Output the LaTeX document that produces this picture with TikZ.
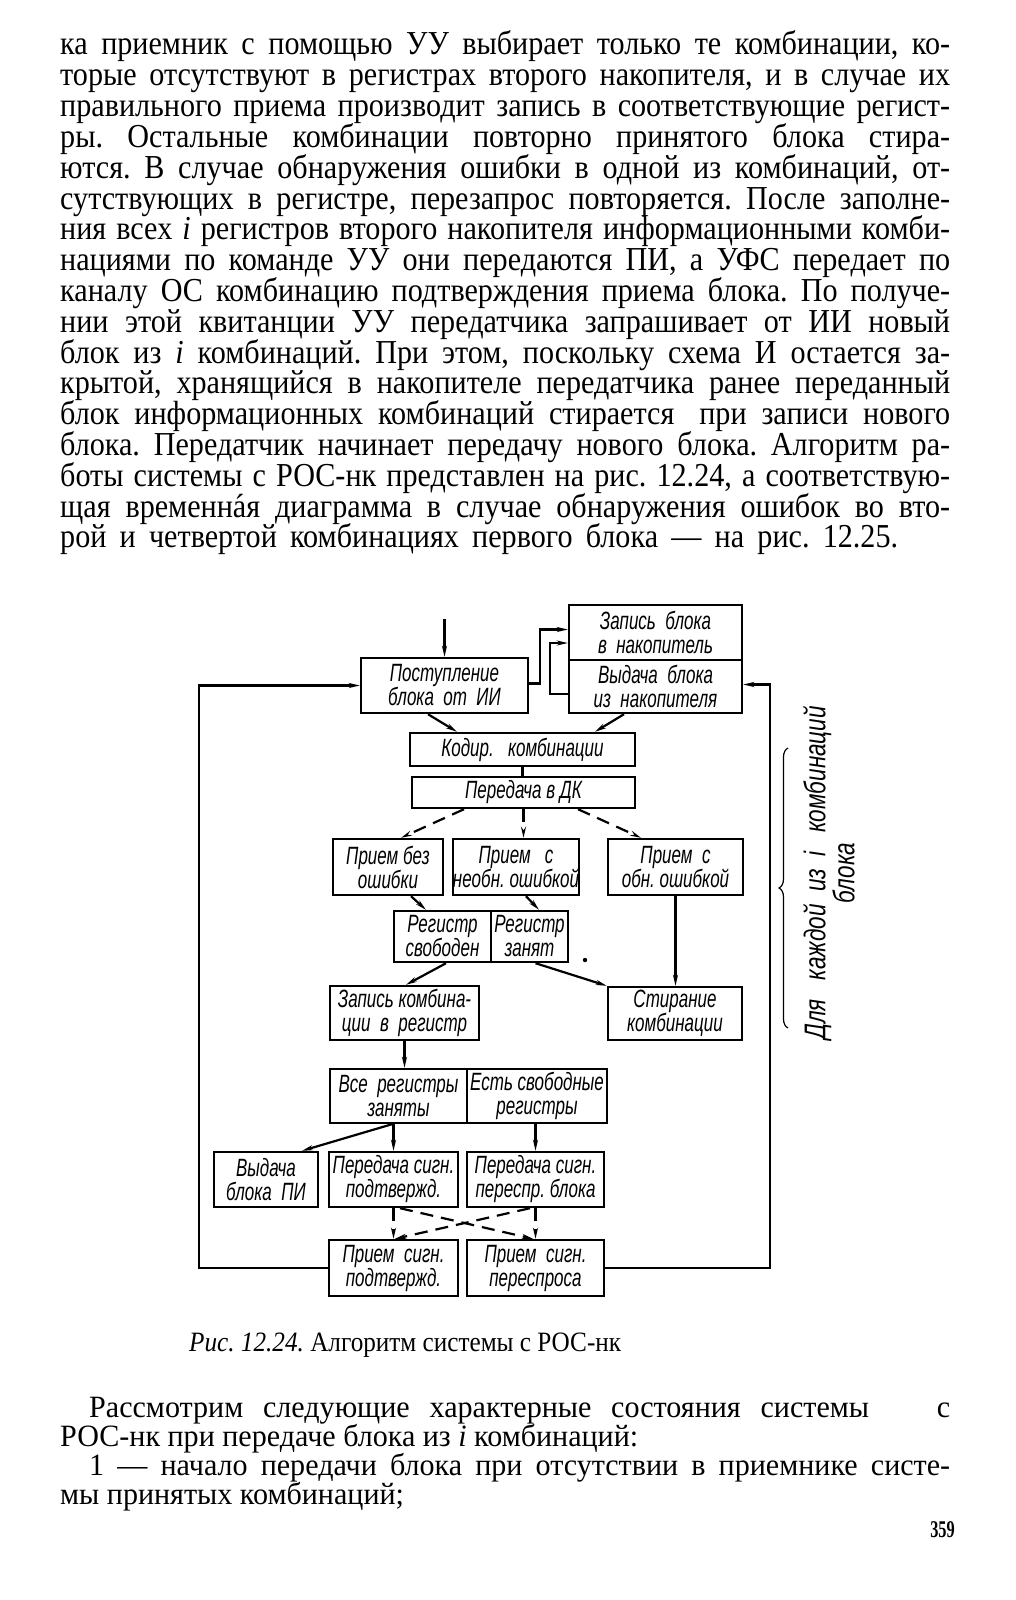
\documentclass[tikz,border=0pt]{standalone}
\usepackage{fontspec}
\setmainfont{Liberation Serif}[FakeStretch=0.9]
\newfontfamily\dfont{Liberation Sans}[FakeStretch=0.68]
\newfontfamily\bfont{Liberation Sans}[FakeStretch=0.75]
\newfontfamily\pgfont{Liberation Serif}[FakeStretch=0.68]
\usetikzlibrary{arrows.meta,decorations.pathreplacing}
\newcommand\jl[2][890pt]{\makebox[#1][s]{#2}}
\frenchspacing
\tikzset{
 blk/.style={draw, line width=2.4pt, inner sep=0pt, align=center, font=\dfont\itshape\fontsize{25}{24}\selectfont},
 arr/.style={line width=2.2pt, -{Stealth[length=11pt,width=5pt]}},
 darr/.style={arr, dash pattern=on 13pt off 8pt},
 ln/.style={line width=2.2pt},
 body/.style={anchor=base west, inner sep=0pt, font=\fontsize{33.5}{31}\selectfont},
 bodyb/.style={anchor=base west, inner sep=0pt, font=\addfontfeature{FakeStretch=0.97}\fontsize{31}{29}\selectfont},
}
\begin{document}
\begin{tikzpicture}[x=1pt,y=-1pt]
\useasboundingbox[fill=white] (0,0) rectangle (1016,1600);
% ---- top paragraph
\node[body] (L1) at (60,55.0) {\jl{ка приемник с помощью УУ выбирает только те комбинации, ко-}};
\node[body] (L2) at (60,85.8) {\jl{торые отсутствуют в регистрах второго накопителя, и в случае их}};
\node[body] (L3) at (60,116.6) {\jl{правильного приема производит запись в соответствующие регист-}};
\node[body] (L4) at (60,147.4) {\jl{ры. Остальные комбинации повторно принятого блока стира-}};
\node[body] (L5) at (60,178.2) {\jl{ются. В случае обнаружения ошибки в одной из комбинаций, от-}};
\node[body] (L6) at (60,209.0) {\jl{сутствующих в регистре, перезапрос повторяется. После заполне-}};
\node[body] (L7) at (60,239.8) {\jl{ния всех \textit{i} регистров второго накопителя информационными комби-}};
\node[body] (L8) at (60,270.6) {\jl{нациями по команде УУ они передаются ПИ, а УФС передает по}};
\node[body] (L9) at (60,301.4) {\jl{каналу ОС комбинацию подтверждения приема блока. По получе-}};
\node[body] (L10) at (60,332.2) {\jl{нии этой квитанции УУ передатчика запрашивает от ИИ новый}};
\node[body] (L11) at (60,363.0) {\jl{блок из \textit{i} комбинаций. При этом, поскольку схема И остается за-}};
\node[body] (L12) at (60,393.8) {\jl{крытой, хранящийся в накопителе передатчика ранее переданный}};
\node[body] (L13) at (60,424.6) {\jl{блок информационных комбинаций стирается\hspace{10pt} при записи нового}};
\node[body] (L14) at (60,455.4) {\jl{блока. Передатчик начинает передачу нового блока. Алгоритм ра-}};
\node[body] (L15) at (60,486.2) {\jl{боты системы с РОС-нк представлен на рис. 12.24, а соответствую-}};
\node[body] (L16) at (60,517.0) {\jl{щая временн\accent"B4 ая диаграмма в случае обнаружения ошибок во вто-}};
\node[body] (L17) at (60,547.8) {\jl[838pt]{рой и четвертой комбинациях первого блока — на рис. 12.25.}};
% ---- diagram boxes
\node[blk, minimum width=167pt, minimum height=55pt] (P) at (444.5,685.5) {Поступление\\блока\ \ от\ \ ИИ};
\node[blk, minimum width=173pt, minimum height=55pt] (S1) at (655.5,632.5) {Запись\ \ блока\\в\ \ накопитель};
\node[blk, minimum width=173pt, minimum height=53pt] (S2) at (655.5,686.5) {Выдача\ \ блока\\из\ \ накопителя};
\node[blk, minimum width=225pt, minimum height=33pt] (K) at (522.5,749.5) {Кодир.\ \ \ комбинации};
\node[blk, minimum width=223pt, minimum height=31pt] (T) at (523.5,792.5) {Передача в ДК};
\node[blk, minimum width=110pt, minimum height=56pt] (R1) at (388,867) {Прием без\\ошибки};
\node[blk, minimum width=114pt, minimum height=56pt] (R2) at (516,867) {Прием\ \ \ с\\необн. ошибкой};
\node[blk, minimum width=135pt, minimum height=56pt] (R3) at (675.5,867) {Прием\ \ с\\обн. ошибкой};
\node[blk, minimum width=97pt, minimum height=51pt] (G1) at (442.5,936.5) {Регистр\\свободен};
\node[blk, minimum width=77pt, minimum height=51pt] (G2) at (529.5,936.5) {Регистр\\занят};
\node[blk, minimum width=149pt, minimum height=54pt] (Z) at (404.5,1013) {Запись\ комбина-\\ции\ \ в\ \ регистр};
\node[blk, minimum width=134pt, minimum height=53pt] (C) at (675,1013.5) {Стирание\\комбинации};
\node[blk, minimum width=137pt, minimum height=54pt] (A1) at (398.5,1096) {Все\ \ регистры\\заняты};
\node[blk, minimum width=140pt, minimum height=54pt] (A2) at (537,1096) {Есть свободные\\регистры};
\node[blk, minimum width=104pt, minimum height=55pt] (B1) at (266,1179.5) {Выдача\\блока\ \ ПИ};
\node[blk, minimum width=129pt, minimum height=55pt] (B2) at (393.5,1179.5) {Передача сигн.\\подтвержд.};
\node[blk, minimum width=137pt, minimum height=55pt] (B3) at (535.5,1179.5) {Передача сигн.\\переспр. блока};
\node[blk, minimum width=129pt, minimum height=56pt] (D1) at (393.5,1268) {Прием\ \ сигн.\\подтвержд.};
\node[blk, minimum width=137pt, minimum height=56pt] (D2) at (535.5,1268) {Прием\ \ сигн.\\переспроса};
% ---- helper coordinates
\coordinate (in) at (444.5,619);
\coordinate (fbL) at (199,1000);
\coordinate (fbR) at (770,1000);
% ---- connectors
\draw[arr] (in) -- (in |- P.north);
\draw[arr] ([yshift=2pt]P.east) -- ++(11,0) |- ([yshift=3pt]S1.west);
\draw[arr] ([yshift=-7.5pt]S2.west) -- ++(-18,0) |- ([yshift=-10.5pt]S1.west);
\draw[arr] ([xshift=-16.5pt]P.south) -- ([xshift=-65.5pt]K.north);
\draw[arr] ([xshift=-31.5pt]S2.south) -- ([xshift=72.5pt]K.north);
\draw[ln] (K.south) -- (K.south |- T.north);
\draw[darr] ([xshift=-59.5pt]T.south) -- ([xshift=13pt]R1.north);
\draw[darr] (T.south) -- (T.south |- R2.north);
\draw[darr] ([xshift=54.5pt]T.south) -- ([xshift=-34.5pt]R3.north);
\draw[arr] ([xshift=23pt]R1.south) -- ([xshift=-16.5pt]G1.north);
\draw[arr] ([xshift=10pt]R2.south) -- ([xshift=9.5pt]G2.north);
\draw[arr] ([xshift=3.5pt]G1.south) -- ([xshift=1.5pt]Z.north);
\draw[arr] ([xshift=6pt]G2.south) -- (C.north west);
\draw[arr] (R3.south) -- (R3.south |- C.north);
\draw[arr] (Z.south) -- (Z.south |- A1.north);
\draw[arr] ([xshift=-6.5pt]A1.south) -- ([xshift=36pt]B1.north);
\draw[arr] (B2.north |- A1.south) -- (B2.north);
\draw[arr] (B3.north |- A2.south) -- (B3.north);
\draw[darr] (B2.south) -- (D1.north);
\draw[darr] (B3.south) -- (D2.north);
\draw[darr] ([xshift=6.5pt]B2.south) -- ([xshift=-2.5pt]D2.north);
\draw[darr] ([xshift=-5.5pt]B3.south) -- ([xshift=1.5pt]D1.north);
\draw[arr] (D1.west) -| (fbL) |- (P.west);
\draw[arr] (D2.east) -| (fbR) |- ([yshift=2pt]S2.east);
\fill (585,960) circle (2.2pt);
% ---- brace and its text
\draw[line width=1.2pt, decorate, decoration={brace, amplitude=9pt}] (788,1028) -- (788,748);
\node[rotate=90, align=center, inner sep=0pt, font=\bfont\itshape\fontsize{30}{25}\selectfont] (brt) at (829,873) {Для\ \ \ каждой\ \ из\ \ i\ \ \ комбинаций\\блока};
% ---- caption and following text
\node[anchor=base west, inner sep=0pt, font=\fontsize{28}{28}\selectfont] (cap) at (189,1351) {\textit{Рис. 12.24.} Алгоритм системы с РОС-нк};
\node[bodyb] (M1) at (89,1417) {\jl[861pt]{Рассмотрим следующие характерные состояния системы\hspace{48pt} с}};
\node[bodyb] (M2) at (60,1446) {РОС-нк при передаче блока из \textit{i} комбинаций:};
\node[bodyb] (M3) at (89,1475) {\jl[861pt]{1 — начало передачи блока при отсутствии в приемнике систе-}};
\node[bodyb] (M4) at (60,1504) {мы принятых комбинаций;};
\node[anchor=base east, inner sep=0pt, font=\pgfont\bfseries\fontsize{24}{24}\selectfont] (pg) at (955,1537) {359};
\end{tikzpicture}
\end{document}
